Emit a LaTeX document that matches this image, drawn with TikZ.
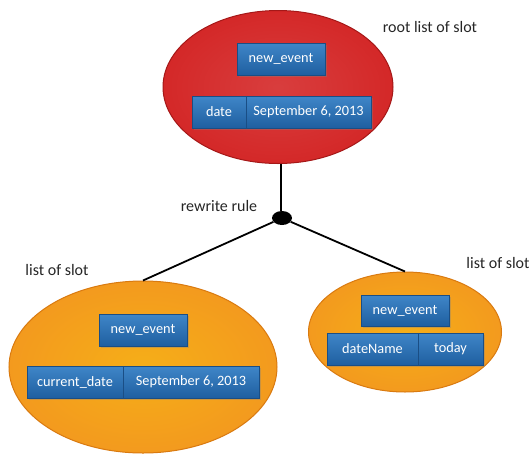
\documentclass[tikz,border=0pt]{standalone}
\usepackage{fontspec}
\setmainfont{Carlito}
\usetikzlibrary{shapes.geometric,shadows}
\definecolor{redfill}{HTML}{D42828}
\definecolor{redrim}{HTML}{A51818}
\definecolor{orfill}{HTML}{F39A1E}
\definecolor{orrim}{HTML}{D97A10}
\definecolor{bluetop}{HTML}{3F86C8}
\definecolor{bluebot}{HTML}{1F5FA0}
\definecolor{blueedge}{HTML}{1A4E85}
\tikzset{
  slotbox/.style={draw=blueedge, line width=0.8pt, top color=bluetop, bottom color=bluebot,
    text=white, font=\fontsize{14.3}{17}\selectfont, inner sep=0pt,
    drop shadow={shadow xshift=1.5pt, shadow yshift=-1.5pt, opacity=0.35}},
  redell/.style={ellipse, draw=redrim, line width=1pt, inner color=redfill!90!white, outer color=redfill,
    inner sep=0pt},
  orell/.style={ellipse, draw=orrim, line width=1pt, inner color=orfill!80!yellow, outer color=orfill,
    inner sep=0pt},
  lbl/.style={font=\fontsize{16}{19}\selectfont, text=black!85, inner sep=0pt},
  conn/.style={line width=1.8pt, black}
}
\begin{document}
\begin{tikzpicture}[x=1pt,y=-1pt]
\useasboundingbox (0,0) rectangle (531,459);
% ellipses
\node[redell, minimum width=230, minimum height=153] (root) at (278,87) {};
\node[orell, minimum width=268, minimum height=172] (left) at (143,367) {};
\node[orell, minimum width=193, minimum height=120] (right) at (405,332) {};
% junction
\node[ellipse, fill=black, minimum width=20, minimum height=14, inner sep=0pt] (dot) at (282,218) {};
\draw[conn] (root.south) ++(3,0) coordinate (rb) -- (rb |- dot.north);
\draw[conn] (dot) -- (left.north);
\draw[conn] (dot) -- (right.north);
% root boxes
\node[slotbox, minimum width=88, minimum height=32] (rne) at (281,59) {new\_event};
\node[slotbox, minimum width=54, minimum height=32] (rdate) at (219,112) {date};
\node[slotbox, minimum width=125, minimum height=32] (rsep) at (308.5,112) {September 6, 2013};
% left boxes
\node[slotbox, minimum width=88, minimum height=32] (lne) at (143,330) {new\_event};
\node[slotbox, minimum width=96, minimum height=32] (lcur) at (75,382) {current\_date};
\node[slotbox, minimum width=136, minimum height=32] (lsep) at (191,382) {September 6, 2013};
% right boxes
\node[slotbox, minimum width=88, minimum height=31] (rtne) at (405,310.5) {new\_event};
\node[slotbox, minimum width=91, minimum height=32] (rtdn) at (372.5,349) {dateName};
\node[slotbox, minimum width=65, minimum height=32] (rtto) at (450.5,349) {today};
% labels
\node[lbl] (lroot) at (430,27) {root list of slot};
\node[lbl] (lrule) at (219,206) {rewrite rule};
\node[lbl] (lleft) at (57,270) {list of slot};
\node[lbl] (lright) at (498,263) {list of slot};
\end{tikzpicture}
\end{document}
